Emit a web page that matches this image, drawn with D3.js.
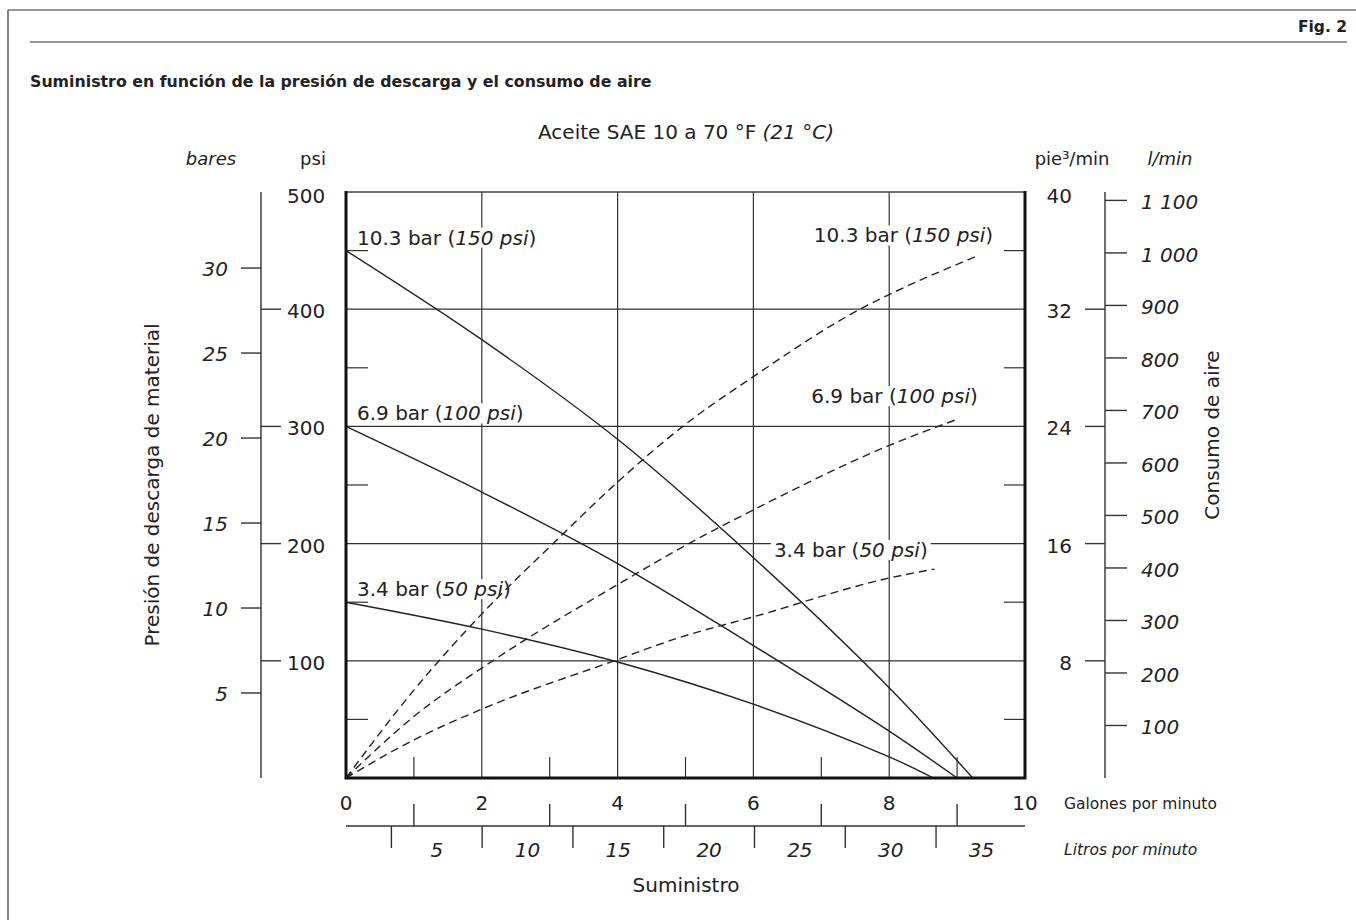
<!DOCTYPE html>
<html><head><meta charset="utf-8">
<script src="https://cdn.jsdelivr.net/npm/d3@7"></script>
<style>
html,body{margin:0;padding:0;background:#fff;}
svg text{font-family:"DejaVu Sans",sans-serif;fill:#222;}
</style></head>
<body>
<svg id="c" width="1356" height="920"></svg>
<script>
// ---------- data ----------
const gpmTicks = [0,2,4,6,8,10];
const gpmMinor = [1,3,5,7,9];
const litrosLabels = [5,10,15,20,25,30,35];
const litrosTicks = [2.5,7.5,12.5,17.5,22.5,27.5,32.5];
const psiTicks = [100,200,300,400,500];
const psiGrid = [100,200,300,400];
const psiMinor = [50,150,250,350,450];
const barTicks = [5,10,15,20,25,30];
const cfmTicks = [8,16,24,32,40];
const lminTicks = [100,200,300,400,500,600,700,800,900,1000,1100];
const lminLabels = ["100","200","300","400","500","600","700","800","900","1 000","1 100"];

// Material pressure (psi) vs delivery (gpm) — solid curves
const flow150 = [[0,450],[2,374],[4,289],[6,188],[8,77],[9.23,0]];
const flow100 = [[0,300],[2,244],[4,183],[6,113],[8,40],[9.0,0]];
const flow50  = [[0,150],[2,127],[4,99],[6,63],[8,18],[8.65,0]];
// Air consumption (scfm) vs delivery (gpm) — dashed curves
const air150 = [[0,0],[1,6.0],[2,11.2],[3.05,16],[4,20.2],[4.96,24.0],[6,27.4],[7.57,32],[8,33],[9.28,35.6]];
const air100 = [[0,0],[1,4.2],[2.16,8],[4,13.2],[5.05,16],[6,18.3],[8,22.7],[9.01,24.5]];
const air50  = [[0,0],[1,2.6],[2,4.7],[3.95,8],[4.92,9.6],[6,11.0],[8,13.65],[8.67,14.27]];

const labelsLeft = [
  {a:"10.3 bar (", b:"150 psi", c:")", curve:flow150},
  {a:"6.9 bar (",  b:"100 psi", c:")", curve:flow100},
  {a:"3.4 bar (",  b:"50 psi",  c:")", curve:flow50}
];
const labelsRight = [
  {a:"10.3 bar (", b:"150 psi", c:")", curve:air150, dx:17, dy:-14},
  {a:"6.9 bar (",  b:"100 psi", c:")", curve:air100, dx:20, dy:-16},
  {a:"3.4 bar (",  b:"50 psi",  c:")", curve:air50,  dx:-7, dy:-12}
];

// ---------- layout ----------
const svg = d3.select("#c");
const L = 346, R = 1025, T = 192, B = 778;
const x = d3.scaleLinear().domain([0,10]).range([L,R]);
const xL = d3.scaleLinear().domain([0,37.4]).range([L,R]);
const yPsi = d3.scaleLinear().domain([0,500]).range([B,T]);
const yBar = d3.scaleLinear().domain([0,500/14.5038]).range([B,T]);
const yCfm = d3.scaleLinear().domain([0,40]).range([B,T]);
const yL = d3.scaleLinear().domain([0,1116]).range([B,T]);
const ink = "#222";
const FS = 20;

// frame of page
svg.append("line").attr("x1",8).attr("x2",1356).attr("y1",10).attr("y2",10).attr("stroke","#333").attr("stroke-width",1.2);
svg.append("line").attr("x1",8).attr("x2",8).attr("y1",10).attr("y2",920).attr("stroke","#333").attr("stroke-width",1.2);
svg.append("line").attr("x1",30).attr("x2",1347).attr("y1",42).attr("y2",42).attr("stroke","#333").attr("stroke-width",1.2);
svg.append("text").attr("x",1347).attr("y",32).attr("text-anchor","end").attr("font-size",15.5).attr("font-weight","bold").text("Fig. 2");
svg.append("text").attr("x",30).attr("y",87).attr("font-size",15.8).attr("font-weight","bold").text("Suministro en función de la presión de descarga y el consumo de aire");

// chart title
const ct = svg.append("text").attr("x",686).attr("y",139).attr("text-anchor","middle").attr("font-size",FS);
ct.append("tspan").text("Aceite SAE 10 a 70 °F ");
ct.append("tspan").attr("font-style","italic").text("(21 °C)");

// unit labels
svg.append("text").attr("x",211).attr("y",165).attr("text-anchor","middle").attr("font-size",18).attr("font-style","italic").text("bares");
svg.append("text").attr("x",313).attr("y",165).attr("text-anchor","middle").attr("font-size",18).text("psi");
svg.append("text").attr("x",1072).attr("y",165).attr("text-anchor","middle").attr("font-size",18).text("pie³/min");
svg.append("text").attr("x",1170).attr("y",165).attr("text-anchor","middle").attr("font-size",18).attr("font-style","italic").text("l/min");

// grid
const grid = svg.append("g").attr("stroke","#333").attr("stroke-width",1.2);
grid.selectAll(".hg").data(psiGrid).join("line")
  .attr("x1",L).attr("x2",R).attr("y1",d=>yPsi(d)).attr("y2",d=>yPsi(d));
grid.selectAll(".vg").data([2,4,6,8]).join("line")
  .attr("y1",T).attr("y2",B).attr("x1",d=>x(d)).attr("x2",d=>x(d));
grid.selectAll(".ml").data(psiMinor).join("line")
  .attr("x1",L).attr("x2",L+22).attr("y1",d=>yPsi(d)).attr("y2",d=>yPsi(d));
grid.selectAll(".mr").data(psiMinor).join("line")
  .attr("x1",R-21).attr("x2",R).attr("y1",d=>yPsi(d)).attr("y2",d=>yPsi(d));
grid.selectAll(".mb").data(gpmMinor).join("line")
  .attr("x1",d=>x(d)).attr("x2",d=>x(d)).attr("y1",B-21).attr("y2",B);

// layers
const bgLayer = svg.append("g");
const curveLayer = svg.append("g");
const textLayer = svg.append("g");

// curves
const lineP = d3.line().x(d=>x(d[0])).y(d=>yPsi(d[1])).curve(d3.curveCatmullRom.alpha(0.5));
const lineA = d3.line().x(d=>x(d[0])).y(d=>yCfm(d[1])).curve(d3.curveMonotoneX);
[flow150,flow100,flow50].forEach(c=>{
  curveLayer.append("path").attr("d",lineP(c)).attr("fill","none").attr("stroke",ink).attr("stroke-width",1.4);
});
[air150,air100,air50].forEach(c=>{
  curveLayer.append("path").attr("d",lineA(c)).attr("fill","none").attr("stroke",ink).attr("stroke-width",1.4).attr("stroke-dasharray","8,5");
});

// plot frame
svg.append("line").attr("x1",L).attr("x2",R).attr("y1",T).attr("y2",T).attr("stroke","#444").attr("stroke-width",1.5);
svg.append("path").attr("d",`M${L},${T-1}V${B}H${R}V${T-1}`).attr("fill","none").attr("stroke","#111").attr("stroke-width",3);

// curve labels
function mkLabel(l, px, py, anchor){
  const t = textLayer.append("text").attr("x",px).attr("y",py).attr("text-anchor",anchor).attr("font-size",FS);
  t.append("tspan").text(l.a);
  t.append("tspan").attr("font-style","italic").text(l.b);
  t.append("tspan").text(l.c);
  const bb = t.node().getBBox();
  bgLayer.append("rect").attr("x",bb.x-3).attr("y",bb.y+2).attr("width",bb.width+6).attr("height",bb.height-4).attr("fill","#fff");
}
labelsLeft.forEach(l=>{
  const p = l.curve[0];
  mkLabel(l, x(p[0])+11, yPsi(p[1])-6, "start");
});
labelsRight.forEach(l=>{
  const p = l.curve[l.curve.length-1];
  mkLabel(l, x(p[0])+l.dx, yCfm(p[1])+l.dy, "end");
});

// left axes: bar + psi
const barX = 261;
svg.append("line").attr("x1",barX).attr("x2",barX).attr("y1",T).attr("y2",B).attr("stroke","#333").attr("stroke-width",1.4);
svg.selectAll(".bt").data(barTicks).join("line").attr("x1",barX-20).attr("x2",barX).attr("y1",d=>yBar(d)).attr("y2",d=>yBar(d)).attr("stroke","#333").attr("stroke-width",1.4);
svg.selectAll(".btl").data(barTicks).join("text").attr("x",barX-33).attr("y",d=>yBar(d)+8).attr("text-anchor","end").attr("font-size",FS).attr("font-style","italic").text(d=>d);
svg.selectAll(".pt").data(psiGrid).join("line").attr("x1",barX).attr("x2",barX+20).attr("y1",d=>yPsi(d)).attr("y2",d=>yPsi(d)).attr("stroke","#333").attr("stroke-width",1.4);
svg.selectAll(".ptl").data(psiTicks).join("text").attr("x",barX+26).attr("y",d=>yPsi(d)+(d===500?11:9)).attr("font-size",FS).text(d=>d);

// right axes: cfm + l/min
const lX = 1105;
svg.append("line").attr("x1",lX).attr("x2",lX).attr("y1",T).attr("y2",B).attr("stroke","#333").attr("stroke-width",1.4);
svg.selectAll(".ct").data(cfmTicks.filter(d=>d<40)).join("line").attr("x1",lX-20).attr("x2",lX).attr("y1",d=>yCfm(d)).attr("y2",d=>yCfm(d)).attr("stroke","#333").attr("stroke-width",1.4);
svg.selectAll(".ctl").data(cfmTicks).join("text").attr("x",1072).attr("y",d=>yCfm(d)+(d===40?11:9)).attr("text-anchor","end").attr("font-size",FS).text(d=>d);
svg.selectAll(".lt").data(lminTicks).join("line").attr("x1",lX).attr("x2",lX+22).attr("y1",d=>yL(d)).attr("y2",d=>yL(d)).attr("stroke","#333").attr("stroke-width",1.4);
svg.selectAll(".ltl").data(lminTicks).join("text").attr("x",lX+36).attr("y",d=>yL(d)+9).attr("font-size",FS).attr("font-style","italic").text((d,i)=>lminLabels[i]);

// bottom axes
svg.selectAll(".gl").data(gpmTicks).join("text").attr("x",d=>x(d)).attr("y",810).attr("text-anchor","middle").attr("font-size",FS).text(d=>d);
const lyB = 826;
svg.append("line").attr("x1",L).attr("x2",R).attr("y1",lyB).attr("y2",lyB).attr("stroke","#333").attr("stroke-width",1.4);
svg.selectAll(".gt").data(gpmMinor).join("line").attr("x1",d=>x(d)).attr("x2",d=>x(d)).attr("y1",lyB-22).attr("y2",lyB).attr("stroke","#333").attr("stroke-width",1.4);
svg.selectAll(".ltk").data(litrosTicks).join("line").attr("x1",d=>xL(d)).attr("x2",d=>xL(d)).attr("y1",lyB).attr("y2",lyB+22).attr("stroke","#333").attr("stroke-width",1.4);
svg.selectAll(".ltx").data(litrosLabels).join("text").attr("x",d=>xL(d)).attr("y",857).attr("text-anchor","middle").attr("font-size",FS).attr("font-style","italic").text(d=>d);
svg.append("text").attr("x",1064).attr("y",809).attr("font-size",15.5).text("Galones por minuto");
svg.append("text").attr("x",1064).attr("y",855).attr("font-size",15.5).attr("font-style","italic").text("Litros por minuto");
svg.append("text").attr("x",686).attr("y",892).attr("text-anchor","middle").attr("font-size",FS).text("Suministro");

// axis titles
svg.append("text").attr("transform","translate(159,485) rotate(-90)").attr("text-anchor","middle").attr("font-size",FS).text("Presión de descarga de material");
svg.append("text").attr("transform","translate(1219,435) rotate(-90)").attr("text-anchor","middle").attr("font-size",FS).text("Consumo de aire");
</script>
</body></html>
